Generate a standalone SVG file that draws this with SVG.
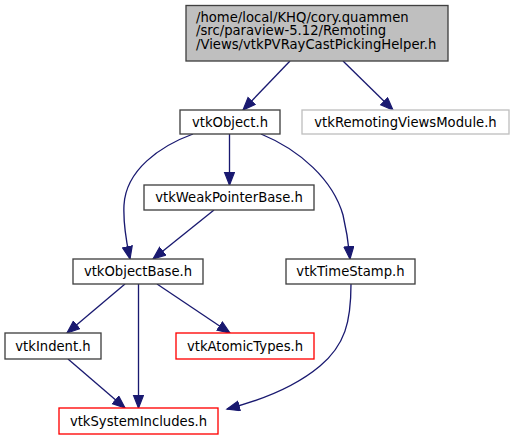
<svg xmlns="http://www.w3.org/2000/svg" width="513" height="440" viewBox="0 0 513 440">
<defs>
<style>
.n rect{fill:#ffffff;stroke:#404040;stroke-width:1.33}
.n.root rect{fill:#bfbfbf}
.n.grey rect{stroke:#bfbfbf}
.n.red rect{stroke:#ff0000}
text{font-family:"DejaVu Sans",Verdana,sans-serif;font-size:13.2px;fill:#000}
.c{text-anchor:middle}
.e path{fill:none;stroke:#191970;stroke-width:1.33;marker-end:url(#ah)}
</style>
<marker id="ah" markerUnits="userSpaceOnUse" markerWidth="15" markerHeight="13" refX="13" refY="5.5" orient="auto" viewBox="0 0 15 13">
<path d="M0.6,0.6 L13,5.5 L0.6,10.4 Z" fill="#191970" stroke="#191970" stroke-width="1.2"/>
</marker>
</defs>
<rect width="513" height="440" fill="#ffffff"/>
<g id="edges" class="e">
<path d="M290,61 L243,110"/>
<path d="M343,61 L393,110"/>
<path d="M229.5,134 L229.5,185"/>
<path d="M193,134 C160,146 126,170 124,205 C123,225 127,245 130,259"/>
<path d="M261,134 C300,150 333,180 343,215 C347,232 349,248 350,259"/>
<path d="M214,210 L153,259"/>
<path d="M125,284 L67,333"/>
<path d="M138.5,284 L138.5,408"/>
<path d="M157,284 L230,333"/>
<path d="M68,359 L125,408"/>
<path d="M351,284 C351,322 345,345 320,366 C295,387 262,400 227,409"/>
</g>
<g id="node-root" class="n root">
<rect x="186" y="5.5" width="262" height="55.5"/>
<text x="196" y="22">/home/local/KHQ/cory.quammen</text>
<text x="196" y="35.3">/src/paraview-5.12/Remoting</text>
<text x="196" y="48.6">/Views/vtkPVRayCastPickingHelper.h</text>
</g>
<g id="node-vtkObject" class="n">
<rect x="180" y="110" width="100" height="24"/>
<text class="c" x="230" y="127">vtkObject.h</text>
</g>
<g id="node-vtkRemotingViewsModule" class="n grey">
<rect x="302" y="110" width="207" height="24"/>
<text class="c" x="405.5" y="127">vtkRemotingViewsModule.h</text>
</g>
<g id="node-vtkWeakPointerBase" class="n">
<rect x="144" y="185" width="170" height="25"/>
<text class="c" x="229" y="202">vtkWeakPointerBase.h</text>
</g>
<g id="node-vtkObjectBase" class="n">
<rect x="73" y="259" width="130" height="25"/>
<text class="c" x="138" y="276">vtkObjectBase.h</text>
</g>
<g id="node-vtkTimeStamp" class="n">
<rect x="286" y="259" width="129" height="25"/>
<text class="c" x="350.5" y="276">vtkTimeStamp.h</text>
</g>
<g id="node-vtkIndent" class="n">
<rect x="5" y="333" width="96" height="26"/>
<text class="c" x="53" y="350.5">vtkIndent.h</text>
</g>
<g id="node-vtkAtomicTypes" class="n red">
<rect x="176" y="333" width="138" height="26"/>
<text class="c" x="245" y="350.5">vtkAtomicTypes.h</text>
</g>
<g id="node-vtkSystemIncludes" class="n red">
<rect x="59" y="408" width="159" height="26"/>
<text class="c" x="138.5" y="425.5">vtkSystemIncludes.h</text>
</g>
</svg>
